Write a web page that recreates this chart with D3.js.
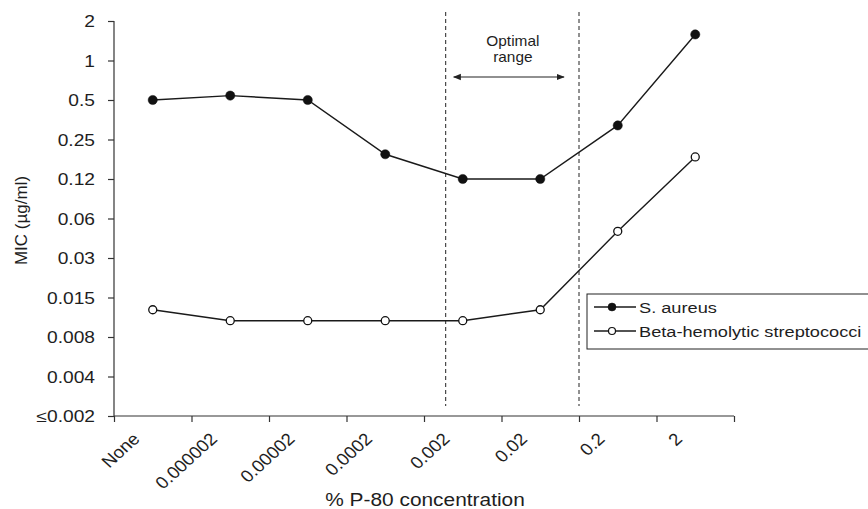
<!DOCTYPE html>
<html>
<head>
<meta charset="utf-8">
<script src="https://cdn.jsdelivr.net/npm/d3@7"></script>
<style>
  body { margin: 0; background: #fff; }
  svg { display: block; font-family: "Liberation Sans", Arial, sans-serif; }
</style>
</head>
<body>
<svg id="chart" width="868" height="509"></svg>
<script>
// ---- data ----
const categories = ["None", "0.000002", "0.00002", "0.0002", "0.002", "0.02", "0.2", "2"];
const sAureus = [0.5, 0.54, 0.5, 0.193, 0.125, 0.125, 0.32, 1.58];
const strepto = [0.0126, 0.0104, 0.0104, 0.0104, 0.0104, 0.0126, 0.0499, 0.184];
const seriesNames = ["S. aureus", "Beta-hemolytic streptococci"];
const yTickValues = [2, 1, 0.5, 0.25, 0.125, 0.0625, 0.03125, 0.015625, 0.0078125, 0.00390625, 0.001953125];
const yTickLabels = ["2", "1", "0.5", "0.25", "0.12", "0.06", "0.03", "0.015", "0.008", "0.004", "\u22640.002"];
const optimalBounds = [4.28, 6.0]; // in category-index units
const optimalLabel = ["Optimal", "range"];

// ---- layout ----
const svg = d3.select("#chart");
const pLeft = 114, pRight = 734, pTop = 21, pBottom = 416;
const FONT = "Liberation Sans, Arial, sans-serif";

const x = d3.scaleBand().domain(categories).range([pLeft, pRight]).padding(0);
const xIdx = d3.scaleLinear().domain([0, categories.length]).range([pLeft, pRight]);
const y = d3.scaleLog().base(2).domain([0.001953125, 2]).range([pBottom, pTop]);

const axisColor = "#333";
const textColor = "#1e1e1e";

// y axis
const yAxis = d3.axisLeft(y).tickValues(yTickValues)
  .tickFormat((d, i) => yTickLabels[i]).tickSize(6).tickPadding(12);
const gy = svg.append("g").attr("transform", `translate(${pLeft},0)`).call(yAxis);
gy.select(".domain").attr("stroke", axisColor).attr("stroke-width", 1.2).attr("d", `M0,${pTop}V${pBottom}`);
gy.selectAll(".tick line").attr("stroke", axisColor).attr("stroke-width", 1.2);
gy.selectAll(".tick text").remove();
gy.selectAll(".tick").append("text")
  .attr("transform", "translate(-19,0) scale(1.2,1)")
  .attr("text-anchor", "end").attr("dy", "0.36em")
  .attr("fill", textColor).style("font-size", "16px").style("font-family", FONT)
  .text((d, i) => yTickLabels[i]);

// x axis: ticks at band boundaries
const boundaries = d3.range(categories.length + 1);
const xAxis = d3.axisBottom(xIdx).tickValues(boundaries).tickFormat("").tickSize(6);
const gx = svg.append("g").attr("transform", `translate(0,${pBottom})`).call(xAxis);
gx.select(".domain").attr("stroke", axisColor).attr("stroke-width", 1.2).attr("d", `M${pLeft},0H${pRight}`);
gx.selectAll(".tick line").attr("stroke", axisColor).attr("stroke-width", 1.2);

// x labels rotated
svg.append("g").selectAll("text").data(categories).join("text")
  .attr("transform", d => `translate(${x(d) + x.bandwidth() / 2 - 12},${pBottom + 24}) scale(1.1,1) rotate(-45)`)
  .attr("text-anchor", "end")
  .attr("fill", textColor)
  .style("font-size", "17px")
  .text(d => d);

// axis titles
svg.append("text")
  .attr("transform", `translate(27,${(pTop + pBottom) / 2 + 2}) rotate(-90)`)
  .attr("text-anchor", "middle").attr("fill", textColor).style("font-size", "17px")
  .text("MIC (\u00b5g/ml)");
svg.append("text")
  .attr("transform", `translate(425,506) scale(1.13,1)`)
  .attr("text-anchor", "middle").attr("fill", textColor).style("font-size", "18.5px")
  .text("% P-80 concentration");

// optimal range dashed lines
svg.append("g").selectAll("line").data(optimalBounds).join("line")
  .attr("x1", d => xIdx(d)).attr("x2", d => xIdx(d))
  .attr("y1", 12).attr("y2", 406)
  .attr("stroke", "#222").attr("stroke-width", 1).attr("stroke-dasharray", "4,3");

// arrow
const defs = svg.append("defs");
defs.append("marker").attr("id", "ah").attr("viewBox", "0 0 10 10")
  .attr("refX", 9).attr("refY", 5).attr("markerWidth", 8).attr("markerHeight", 8)
  .attr("markerUnits", "userSpaceOnUse").attr("orient", "auto-start-reverse")
  .append("path").attr("d", "M0,1L10,5L0,9Z").attr("fill", "#222");
const ax1 = xIdx(optimalBounds[0]) + 8, ax2 = xIdx(optimalBounds[1]) - 15;
svg.append("g").selectAll("text").data(optimalLabel).join("text")
  .attr("transform", (d, i) => `translate(${(ax1 + ax2) / 2 + 4},${45.5 + i * 16}) scale(1.1,1)`)
  .attr("text-anchor", "middle").attr("fill", textColor).style("font-size", "14px")
  .text(d => d);
svg.append("line").attr("x1", ax1).attr("x2", ax2).attr("y1", 77).attr("y2", 77)
  .attr("stroke", "#222").attr("stroke-width", 1.2)
  .attr("marker-start", "url(#ah)").attr("marker-end", "url(#ah)");

// series
const line = d3.line().x((d, i) => x(categories[i]) + x.bandwidth() / 2).y(d => y(d));
function drawSeries(vals, filled) {
  svg.append("path").datum(vals).attr("d", line)
    .attr("fill", "none").attr("stroke", "#1a1a1a").attr("stroke-width", 1.4);
  svg.append("g").selectAll("circle").data(vals).join("circle")
    .attr("cx", (d, i) => x(categories[i]) + x.bandwidth() / 2)
    .attr("cy", d => y(d))
    .attr("r", filled ? 4.6 : 4)
    .attr("fill", filled ? "#111" : "#fff")
    .attr("stroke", "#111").attr("stroke-width", filled ? 0.5 : 1.3);
}
drawSeries(sAureus, true);
drawSeries(strepto, false);

// legend
const lg = svg.append("g");
lg.append("rect").attr("x", 587).attr("y", 294).attr("width", 300).attr("height", 55)
  .attr("fill", "#fff").attr("stroke", "#222").attr("stroke-width", 1);
seriesNames.forEach((name, i) => {
  const cy = 307 + i * 24;
  lg.append("line").attr("x1", 594).attr("x2", 636).attr("y1", cy).attr("y2", cy)
    .attr("stroke", "#1a1a1a").attr("stroke-width", 1.3);
  lg.append("circle").attr("cx", 612).attr("cy", cy).attr("r", i === 0 ? 4 : 3.5)
    .attr("fill", i === 0 ? "#111" : "#fff").attr("stroke", "#111").attr("stroke-width", i === 0 ? 0.5 : 1.2);
  lg.append("text").attr("transform", `translate(639,${cy + 5.5}) scale(1.19,1)`).attr("fill", textColor)
    .style("font-size", "15.3px").text(name);
});
</script>
</body>
</html>
